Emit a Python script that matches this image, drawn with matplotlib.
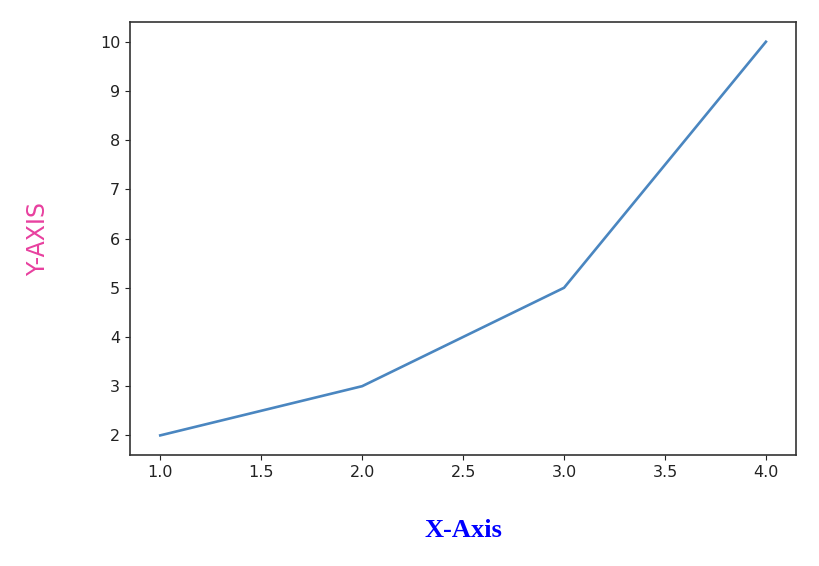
import matplotlib
matplotlib.use("Agg")
import matplotlib.pyplot as plt

x = [1, 2, 3, 4]
y = [2, 3, 5, 10]

fig = plt.figure(figsize=(8.2, 5.66), dpi=100)
ax = fig.add_axes([0.1585, 0.196, 0.8125, 0.765])
ax.plot(x, y, color="#4a86c0", linewidth=1.9)

ax.set_xticks([1.0, 1.5, 2.0, 2.5, 3.0, 3.5, 4.0])
ax.set_yticks(range(2, 11))
ax.tick_params(labelsize=11.5, colors="#222222")
for s in ax.spines.values():
    s.set_color("#333333")
    s.set_linewidth(1.2)

ax.set_xlabel("X-Axis", family="Liberation Serif", fontweight="bold",
              fontsize=19, color="blue", labelpad=28)
ax.set_ylabel("Y-AXIS", family="DejaVu Sans", fontsize=17,
              color="#e8409f", labelpad=36)

fig.savefig("out.png")
